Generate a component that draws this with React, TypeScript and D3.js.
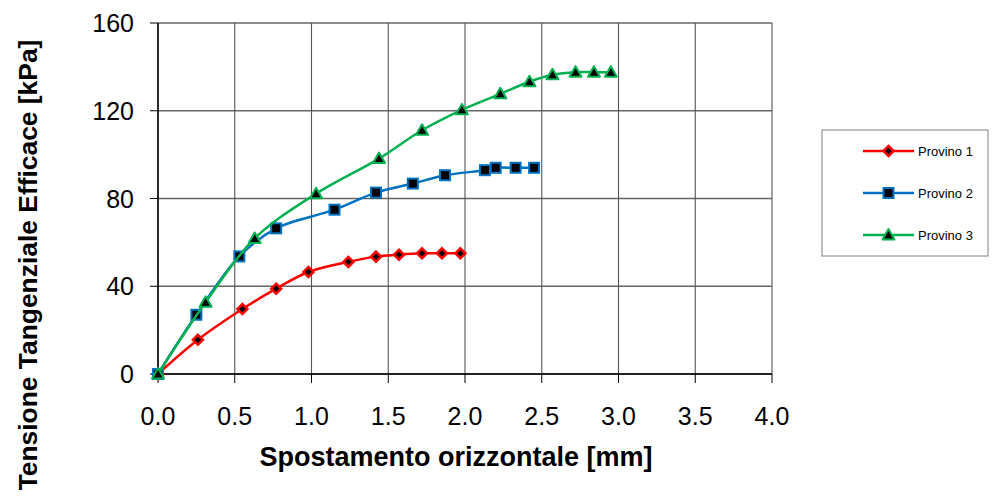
import React from "react";
import * as d3 from "d3";

// Provino 1
const p1X = [0, 0.26, 0.55, 0.77, 0.98, 1.24, 1.42, 1.57, 1.72, 1.85, 1.97];
const p1Y = [0, 15.6, 29.6, 38.9, 46.5, 51.1, 53.5, 54.4, 55.0, 55.0, 55.0];
// Provino 2
const p2X = [0, 0.25, 0.53, 0.77, 1.15, 1.42, 1.66, 1.87, 2.13, 2.2, 2.33, 2.45];
const p2Y = [0, 27.0, 53.6, 66.4, 74.9, 82.7, 86.8, 90.6, 92.9, 94.0, 94.0, 94.0];
// Provino 3
const p3X = [0, 0.31, 0.63, 1.03, 1.44, 1.72, 1.98, 2.23, 2.42, 2.57, 2.72, 2.84, 2.95];
const p3Y = [0, 32.7, 61.8, 82.2, 98.2, 111.1, 120.4, 127.7, 133.2, 136.4, 137.6, 137.6, 137.6];

const xTicks = [0, 0.5, 1, 1.5, 2, 2.5, 3, 3.5, 4];
const yTicks = [0, 40, 80, 120, 160];
const seriesNames = ["Provino 1", "Provino 2", "Provino 3"];

const W = 1003;
const H = 497;
const M = { left: 158, right: 772, top: 23, bottom: 374 };

const colors = ["#ff0000", "#0070c0", "#00b050"];
const markers = ["diamond", "square", "triangle"];

function Marker({ kind, x, y, color }: { kind: string; x: number; y: number; color: string }) {
  if (kind === "diamond") {
    return (
      <path
        d={`M${x},${y - 5}L${x + 5},${y}L${x},${y + 5}L${x - 5},${y}Z`}
        fill="#000"
        stroke={color}
        strokeWidth={2.5}
      />
    );
  }
  if (kind === "square") {
    return <rect x={x - 5} y={y - 5} width={10} height={10} fill="#000" stroke={color} strokeWidth={2} />;
  }
  return (
    <path
      d={`M${x},${y - 6}L${x + 6},${y + 4.5}L${x - 6},${y + 4.5}Z`}
      fill="#000"
      stroke={color}
      strokeWidth={2}
      strokeLinejoin="round"
    />
  );
}

export default function App() {
  const x = d3.scaleLinear().domain([0, 4]).range([M.left, M.right]);
  const y = d3.scaleLinear().domain([0, 160]).range([M.bottom, M.top]);

  const data = [
    p1X.map((v, i) => [v, p1Y[i]] as [number, number]),
    p2X.map((v, i) => [v, p2Y[i]] as [number, number]),
    p3X.map((v, i) => [v, p3Y[i]] as [number, number]),
  ];

  const line = d3
    .line<[number, number]>()
    .x((d) => x(d[0]))
    .y((d) => y(d[1]))
    .curve(d3.curveCatmullRom.alpha(0.5));

  const font = "Arial, 'Liberation Sans', sans-serif";

  return (
    <div style={{ position: "fixed", left: 0, top: 0, background: "#fff" }}>
      <svg width={W} height={H} style={{ display: "block" }} fontFamily={font}>
        <rect width={W} height={H} fill="#fff" />

        {/* grid */}
        {yTicks.map((t) => (
          <line key={"gy" + t} x1={M.left} x2={M.right} y1={y(t)} y2={y(t)} stroke="#666" strokeWidth={1.3} />
        ))}
        {xTicks.map((t) => (
          <line key={"gx" + t} x1={x(t)} x2={x(t)} y1={M.top} y2={M.bottom} stroke="#555" strokeWidth={1.1} />
        ))}

        {/* axes */}
        <line x1={M.left} x2={M.left} y1={M.top} y2={M.bottom} stroke="#000" strokeWidth={1.5} />
        <line x1={M.left} x2={M.right} y1={M.bottom} y2={M.bottom} stroke="#000" strokeWidth={1.5} />
        {yTicks.map((t) => (
          <g key={"ty" + t}>
            <line x1={M.left - 8} x2={M.left} y1={y(t)} y2={y(t)} stroke="#000" strokeWidth={1} />
            <text x={134} y={y(t) + 9} textAnchor="end" fontSize={25}>
              {t}
            </text>
          </g>
        ))}
        {xTicks.map((t) => (
          <g key={"tx" + t}>
            <line x1={x(t)} x2={x(t)} y1={M.bottom} y2={M.bottom + 9} stroke="#000" strokeWidth={1} />
            <text x={x(t)} y={425} textAnchor="middle" fontSize={25}>
              {t.toFixed(1)}
            </text>
          </g>
        ))}

        <text x={456} y={466} textAnchor="middle" fontSize={27} fontWeight="bold">
          Spostamento orizzontale [mm]
        </text>
        <text
          transform={`translate(37,265) rotate(-90)`}
          textAnchor="middle"
          fontSize={26.4}
          fontWeight="bold"
        >
          Tensione Tangenziale Efficace [kPa]
        </text>

        {/* series */}
        {data.map((s, i) => (
          <g key={"s" + i}>
            <path d={line(s) || ""} fill="none" stroke={colors[i]} strokeWidth={2.5} />
            {s.map((d, j) => (
              <Marker key={j} kind={markers[i]} x={x(d[0])} y={y(d[1])} color={colors[i]} />
            ))}
          </g>
        ))}

        {/* legend */}
        <rect x={822} y={130} width={166} height={126} fill="#fff" stroke="#808080" strokeWidth={1} />
        {seriesNames.map((n, i) => {
          const ly = 151 + i * 42;
          return (
            <g key={n}>
              <line x1={863} x2={914} y1={ly} y2={ly} stroke={colors[i]} strokeWidth={2.5} />
              <Marker kind={markers[i]} x={888.5} y={ly} color={colors[i]} />
              <text x={918} y={ly + 5} fontSize={13}>
                {n}
              </text>
            </g>
          );
        })}
      </svg>
    </div>
  );
}
